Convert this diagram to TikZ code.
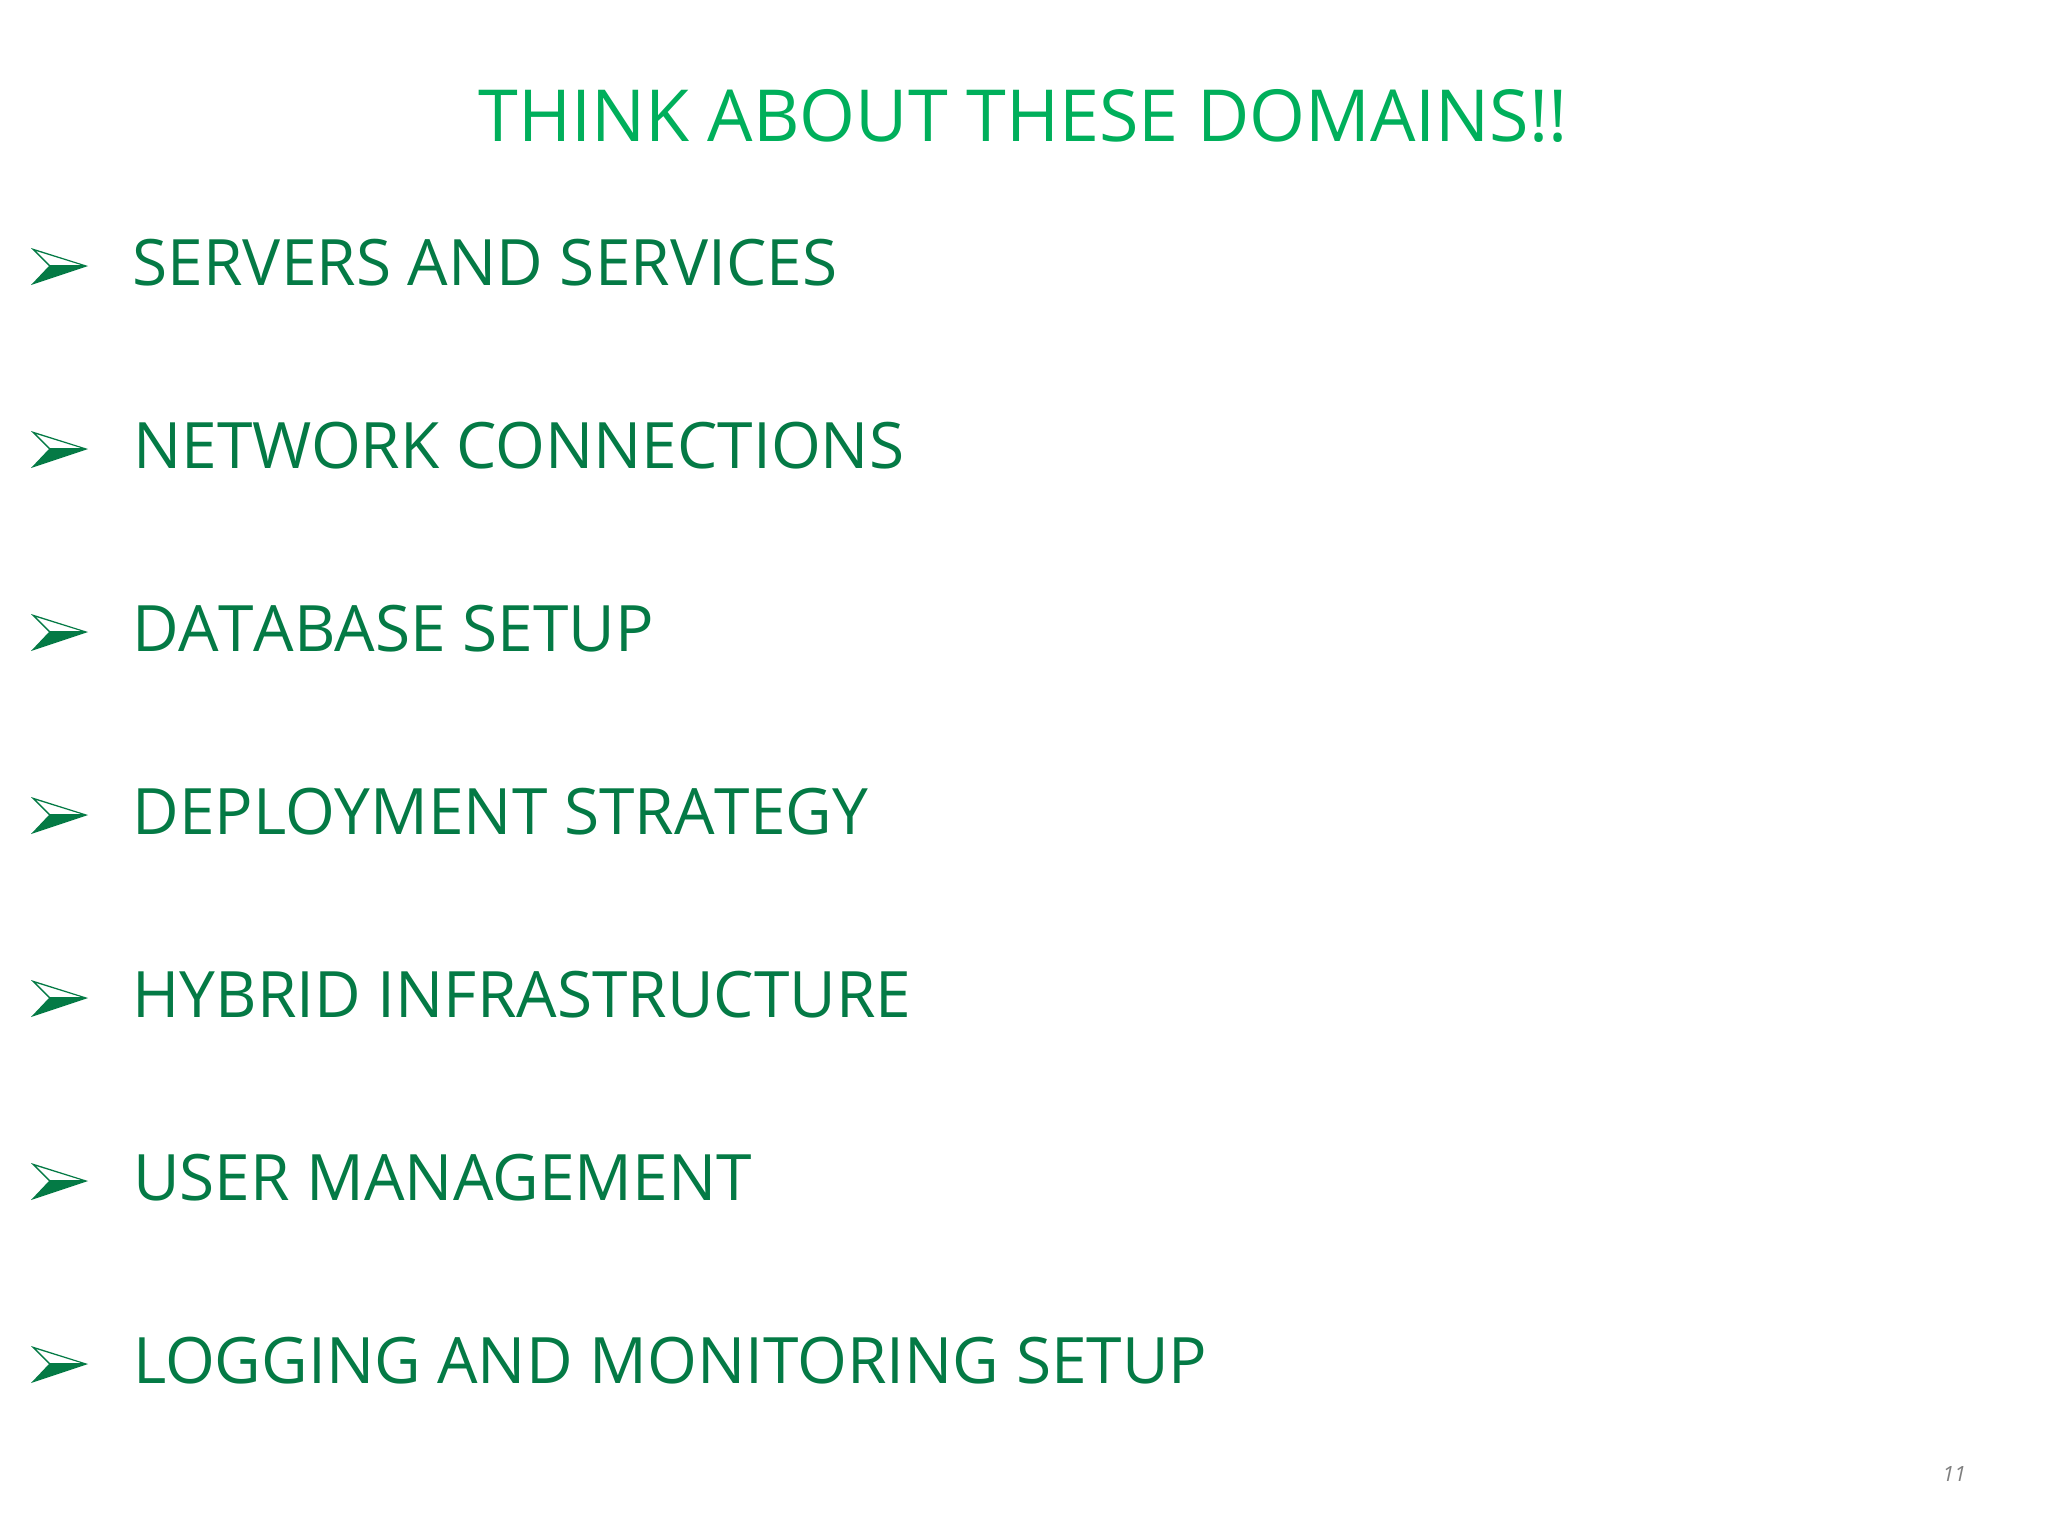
\documentclass[tikz,border=0pt]{standalone}
\usepackage{fontspec}
\setmainfont{Open Sans}
\definecolor{titlegreen}{HTML}{00AF5B}
\definecolor{itemgreen}{HTML}{047A45}
\definecolor{pagegray}{HTML}{7F7F7F}
\tikzset{
 itemtext/.style={anchor=base west,inner sep=0pt,text=itemgreen,font=\fontsize{64}{76}\selectfont},
 titletext/.style={anchor=base,inner sep=0pt,text=titlegreen,font=\fontsize{71.8}{86}\selectfont},
}
\newcommand{\arrowmark}[1]{%
 \fill[itemgreen,even odd rule,shift={(31,#1)}] (0,0) -- (57,18) -- (0,37) -- (18,18) -- cycle (5,3) -- (19,17) -- (50,17) -- cycle;}
\begin{document}
\begin{tikzpicture}[x=1pt,y=-1pt]
\useasboundingbox (0,0) rectangle (2048,1536);
\fill[white] (0,0) rectangle (2048,1536);
\node[titletext] (title) at (1023,142) {THINK ABOUT THESE DOMAINS!!};
\node[itemtext] (i1) at (132.5,285.7) {SERVERS AND SERVICES};
\node[itemtext] (i2) at (133,468.7) {NETWORK CONNECTIONS};
\node[itemtext] (i3) at (132.5,651.7) {DA\kern0ptT\kern0ptABASE SETUP};
\node[itemtext] (i4) at (132.5,834.7) {DEPLOYMENT STRA\kern0ptTEGY};
\node[itemtext] (i5) at (132.5,1017.7) {HYBRID INFRASTRUCTURE};
\node[itemtext] (i6) at (133,1200.7) {USER MANAGEMENT};
\node[itemtext] (i7) at (133,1383.7) {LOGGING AND MONITORING SETUP};
\arrowmark{248}\arrowmark{431}\arrowmark{614}\arrowmark{797}\arrowmark{980}\arrowmark{1163}\arrowmark{1346}
\node[anchor=base east,inner sep=0pt,text=pagegray,font=\itshape\fontsize{21}{25}\selectfont] (pg) at (1966,1481) {11};
\end{tikzpicture}
\end{document}
